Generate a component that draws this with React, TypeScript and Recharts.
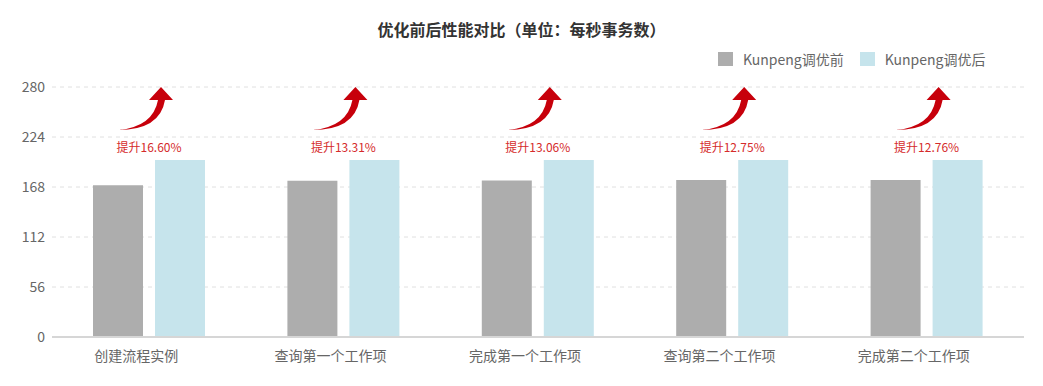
import React from "react";
import {
  BarChart,
  Bar,
  XAxis,
  YAxis,
  CartesianGrid,
  LabelList,
} from "recharts";

const categories = [
  "创建流程实例",
  "查询第一个工作项",
  "完成第一个工作项",
  "查询第二个工作项",
  "完成第二个工作项",
];
const beforeValues = [170.0, 175.0, 175.3, 175.8, 175.8];
const afterValues = [198.2, 198.3, 198.2, 198.2, 198.2];
const improvements = ["16.60%", "13.31%", "13.06%", "12.75%", "12.76%"];
const yTicks = [0, 56, 112, 168, 224, 280];

const BEFORE_COLOR = "#adadad";
const AFTER_COLOR = "#c6e4ec";
const RED = "#c7000b";
const FONT = "'Noto Sans CJK SC', 'Noto Sans', sans-serif";

const data = categories.map((name, i) => ({
  name,
  before: beforeValues[i],
  after: afterValues[i],
  pct: improvements[i],
}));

// label + curved arrow drawn above each pair, anchored on the "after" bar
const UpliftMark = (props: any) => {
  const { x, y, index } = props;
  const cx = x - 6; // centre of the bar pair
  const tx = x - 37;
  const ty = y - 30;
  const path = [
    `M ${tx} ${ty}`,
    `Q ${x + 5} ${ty} ${x + 10} ${y - 60}`,
    `L ${x + 18} ${y - 60}`,
    `L ${x + 6} ${y - 73}`,
    `L ${x - 6} ${y - 60}`,
    `L ${x + 3} ${y - 60}`,
    `Q ${x - 2} ${ty - 3} ${tx} ${ty} Z`,
  ].join(" ");
  return (
    <g>
      <path d={path} fill={RED} />
      <text
        x={cx}
        y={y - 8}
        textAnchor="middle"
        fontSize={12}
        fill="#d52b2b"
        fontFamily={FONT}
      >
        提升{improvements[index]}
      </text>
    </g>
  );
};

export default function App() {
  return (
    <div
      style={{
        position: "absolute",
        left: 0,
        top: 0,
        width: 1043,
        height: 386,
        background: "#fff",
        fontFamily: FONT,
      }}
    >
      <div
        style={{
          position: "absolute",
          top: 17,
          left: 0,
          width: 1043,
          textAlign: "center",
          fontSize: 16,
          fontWeight: 700,
          color: "#333",
        }}
      >
        优化前后性能对比（单位：每秒事务数）
      </div>
      <div
        style={{
          position: "absolute",
          top: 49,
          left: 718,
          display: "flex",
          alignItems: "center",
          fontSize: 14,
          color: "#666",
        }}
      >
        <span
          style={{ width: 15, height: 14, background: BEFORE_COLOR, marginRight: 10 }}
        />
        <span style={{ marginRight: 16 }}>Kunpeng调优前</span>
        <span
          style={{ width: 15, height: 14, background: AFTER_COLOR, marginRight: 10 }}
        />
        <span>Kunpeng调优后</span>
      </div>
      <div style={{ position: "absolute", left: 0, top: 0 }}>
        <BarChart
          width={1043}
          height={386}
          data={data}
          margin={{ top: 87, right: 19, bottom: 19, left: 0 }}
          barGap={12}
          barSize={50}
        >
          <CartesianGrid
            vertical={false}
            stroke="#e0e0e0"
            strokeDasharray="4 4"
          />
          <XAxis
            dataKey="name"
            height={30}
            tickLine={false}
            tickSize={0}
            tickMargin={14}
            axisLine={{ stroke: "#d6d6d6", strokeWidth: 2 }}
            tick={{ fill: "#666", fontSize: 14, fontFamily: FONT, dx: -13 }}
          />
          <YAxis
            width={52}
            domain={[0, 280]}
            ticks={yTicks}
            axisLine={false}
            tickLine={false}
            tickSize={0}
            tickMargin={7}
            tick={{ fill: "#666", fontSize: 14, fontFamily: FONT }}
          />
          <Bar dataKey="before" fill={BEFORE_COLOR} isAnimationActive={false} />
          <Bar dataKey="after" fill={AFTER_COLOR} isAnimationActive={false}>
            <LabelList dataKey="pct" content={<UpliftMark />} />
          </Bar>
        </BarChart>
      </div>
    </div>
  );
}
